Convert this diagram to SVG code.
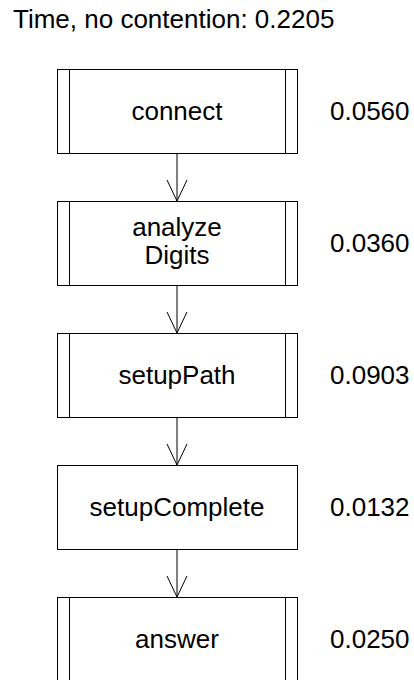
<svg xmlns="http://www.w3.org/2000/svg" width="414" height="680" viewBox="0 0 414 680">
<style>
text{font-family:"Liberation Sans",Arial,sans-serif;font-size:26px;fill:#000}
.lbl{text-anchor:middle}
.box{fill:#fff;stroke:#000;stroke-width:1}
.bar{stroke:#000;stroke-width:1}
.conn{stroke:#000;stroke-width:1;fill:none}
</style>
<rect width="414" height="680" fill="#fff"/>
<text x="13" y="28">Time, no contention: 0.2205</text>
<g id="connectors">
<line class="conn" x1="177" y1="153" x2="177" y2="201"/>
<path class="conn" d="M167,180 L177,201 L187,180"/>
<line class="conn" x1="177" y1="285" x2="177" y2="333"/>
<path class="conn" d="M167,312 L177,333 L187,312"/>
<line class="conn" x1="177" y1="417" x2="177" y2="465"/>
<path class="conn" d="M167,444 L177,465 L187,444"/>
<line class="conn" x1="177" y1="549" x2="177" y2="597"/>
<path class="conn" d="M167,576 L177,597 L187,576"/>
</g>
<g id="connect">
<rect class="box" x="57.5" y="69.5" width="240" height="84"/>
<line class="bar" x1="69.5" y1="69.5" x2="69.5" y2="153.5"/>
<line class="bar" x1="285.5" y1="69.5" x2="285.5" y2="153.5"/>
<text class="lbl" x="177" y="120">connect</text>
<text x="330" y="120">0.0560</text>
</g>
<g id="analyzeDigits">
<rect class="box" x="57.5" y="201.5" width="240" height="84"/>
<line class="bar" x1="69.5" y1="201.5" x2="69.5" y2="285.5"/>
<line class="bar" x1="285.5" y1="201.5" x2="285.5" y2="285.5"/>
<text class="lbl" x="177" y="236">analyze</text>
<text class="lbl" x="177" y="264">Digits</text>
<text x="330" y="252">0.0360</text>
</g>
<g id="setupPath">
<rect class="box" x="57.5" y="333.5" width="240" height="84"/>
<line class="bar" x1="69.5" y1="333.5" x2="69.5" y2="417.5"/>
<line class="bar" x1="285.5" y1="333.5" x2="285.5" y2="417.5"/>
<text class="lbl" x="177" y="384">setupPath</text>
<text x="330" y="384">0.0903</text>
</g>
<g id="setupComplete">
<rect class="box" x="57.5" y="465.5" width="240" height="84"/>
<text class="lbl" x="177" y="516">setupComplete</text>
<text x="330" y="516">0.0132</text>
</g>
<g id="answer">
<rect class="box" x="57.5" y="597.5" width="240" height="84"/>
<line class="bar" x1="69.5" y1="597.5" x2="69.5" y2="681.5"/>
<line class="bar" x1="285.5" y1="597.5" x2="285.5" y2="681.5"/>
<text class="lbl" x="177" y="648">answer</text>
<text x="330" y="648">0.0250</text>
</g>
</svg>
